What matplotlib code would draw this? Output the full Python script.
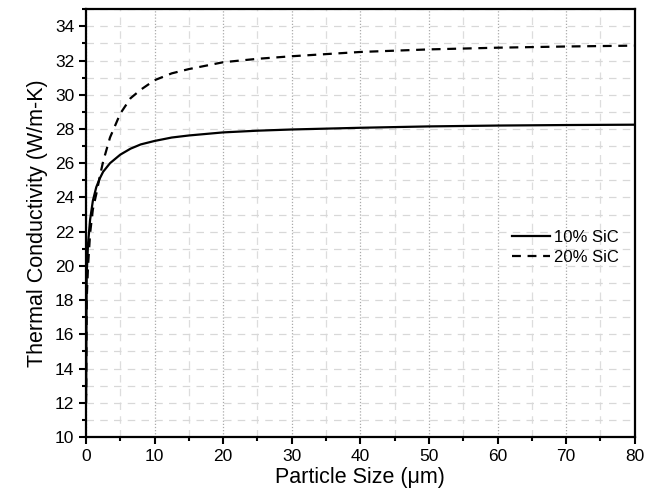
import matplotlib.pyplot as plt
from matplotlib.ticker import MultipleLocator

plt.rcParams['font.family'] = ['Liberation Sans', 'DejaVu Sans']

# particle size (um) and thermal conductivity (W/m-K)
size = [0.02, 0.1, 0.3, 0.6, 1.0, 1.5, 2.0, 2.5, 3.5, 5.0, 6.5, 8.0, 10.0, 12.5,
        15.0, 20.0, 25.0, 30.0, 40.0, 50.0, 60.0, 70.0, 80.0]
k_10 = [12.5, 19.5, 21.3, 22.7, 23.8, 24.6, 25.1, 25.5, 26.0, 26.5, 26.85, 27.1,
        27.3, 27.5, 27.62, 27.8, 27.9, 27.97, 28.07, 28.15, 28.2, 28.23, 28.25]
k_20 = [12.0, 18.0, 20.0, 21.9, 23.3, 24.2, 25.2, 26.1, 27.5, 28.9, 29.8, 30.3,
        30.85, 31.25, 31.5, 31.9, 32.1, 32.25, 32.5, 32.65, 32.75, 32.82, 32.87]
labels = ['10% SiC', '20% SiC']

fig = plt.figure(figsize=(6.49, 4.94), dpi=100)
ax = fig.add_axes([0.1325, 0.1154, 0.8455, 0.866])

ax.plot(size, k_10, '-', color='black', lw=1.6, label=labels[0])
ax.plot(size, k_20, '--', color='black', lw=1.6, dashes=(4, 3), label=labels[1])

ax.set_xlim(0, 80)
ax.set_ylim(10, 35)
ax.xaxis.set_major_locator(MultipleLocator(10))
ax.xaxis.set_minor_locator(MultipleLocator(5))
ax.yaxis.set_minor_locator(MultipleLocator(1))
ax.set_yticks(range(10, 35, 2))

# grid: dotted verticals at the major x ticks, faint dashes elsewhere
ax.grid(axis='x', which='major', color='#aaaaaa', linestyle=(0, (1, 1.5)), linewidth=0.9)
ax.grid(axis='x', which='minor', color='#dddddd', linestyle=(0, (6, 5)), linewidth=0.9)
ax.grid(axis='y', which='both', color='#d8d8d8', linestyle=(0, (6, 5)), linewidth=0.9)
ax.set_axisbelow(True)

ax.tick_params(which='major', direction='out', length=5, width=1.5, labelsize=12.5,
               top=False, right=False)
ax.tick_params(which='minor', direction='out', length=3, width=1.5,
               top=False, right=False)
for s in ax.spines.values():
    s.set_linewidth(1.6)

ax.set_xlabel('Particle Size (\u03bcm)', fontsize=15.5, labelpad=2)
ax.set_ylabel('Thermal Conductivity (W/m-K)', fontsize=15.5, labelpad=5)

ax.legend(loc='center left', bbox_to_anchor=(0.749, 0.443), frameon=False,
          fontsize=12, handlelength=2.3, handletextpad=0.2, labelspacing=0.3)

fig.savefig('out.png', dpi=100)
